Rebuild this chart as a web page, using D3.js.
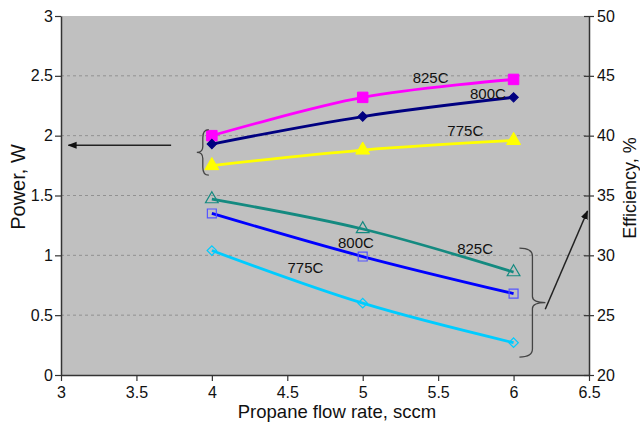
<!DOCTYPE html>
<html>
<head>
<meta charset="utf-8">
<script src="https://cdn.jsdelivr.net/npm/d3@7"></script>
<style>
  body { margin: 0; background: #fff; }
  text { font-family: "Liberation Sans", Arial, sans-serif; }
</style>
</head>
<body>
<div id="chart-area"></div>
<script>
// data
var flow = [4, 5, 6];
var power825 = [2.00, 2.32, 2.47];
var power800 = [1.93, 2.16, 2.32];
var power775 = [1.75, 1.88, 1.96];
var eff825 = [34.7, 32.2, 28.6];
var eff800 = [33.5, 29.9, 26.8];
var eff775 = [30.4, 26.0, 22.7];
var xTicks = [3, 3.5, 4, 4.5, 5, 5.5, 6, 6.5];
var powerTicks = [0, 0.5, 1, 1.5, 2, 2.5, 3];
var effTicks = [20, 25, 30, 35, 40, 45, 50];

var W = 640, H = 431;
var margin = {left: 61, right: 51, top: 16, bottom: 56};
var width = W - margin.left - margin.right;
var height = H - margin.top - margin.bottom;

var svg = d3.select("#chart-area").append("svg").attr("width", W).attr("height", H);
var g = svg.append("g").attr("transform", "translate(" + margin.left + "," + margin.top + ")");

var x = d3.scaleLinear().domain([3, 6.5]).range([0, width]);
var y = d3.scaleLinear().domain([0, 3]).range([height, 0]);
var y2 = d3.scaleLinear().domain([20, 50]).range([height, 0]);

g.append("rect").attr("width", width).attr("height", height).attr("fill", "#c0c0c0");

// gridlines
g.selectAll(".grid").data(powerTicks.slice(1, -1)).enter().append("line")
	.attr("x1", 0).attr("x2", width)
	.attr("y1", d => y(d)).attr("y2", d => y(d))
	.attr("stroke", "#919191").attr("stroke-dasharray", "3,3").attr("stroke-width", 1);

// axes
var bottomAxis = d3.axisBottom(x).tickValues(xTicks).tickSize(6).tickSizeOuter(0).tickFormat(d3.format("~g"));
var leftAxis = d3.axisLeft(y).tickValues(powerTicks).tickSize(6).tickSizeOuter(0).tickFormat(d3.format("~g"));
var rightAxis = d3.axisRight(y2).tickValues(effTicks).tickSize(5).tickSizeOuter(0);

function styleAxis(sel) {
	sel.select(".domain").attr("stroke", "#333").attr("stroke-width", 1.5);
	sel.selectAll(".tick line").attr("stroke", "#333").attr("stroke-width", 1.2);
	sel.selectAll("text").attr("font-size", "16px").attr("fill", "#111")
		.attr("font-family", "Liberation Sans, Arial, sans-serif");
}

g.append("g").attr("transform", "translate(0," + height + ")").call(bottomAxis).call(styleAxis)
	.selectAll("text").attr("dy", "0.9em");
g.append("g").call(leftAxis).call(styleAxis)
	.selectAll("text").attr("x", -8);
var ra = g.append("g").attr("transform", "translate(" + width + ",0)").call(rightAxis).call(styleAxis);
ra.selectAll(".tick line").attr("x1", -5);
ra.selectAll("text").attr("x", 8);

// series
var series = [
	{vals: power825, sc: y, color: "#ff00ff", shape: d3.symbolSquare, rot: 0, fill: true, size: 110},
	{vals: power800, sc: y, color: "#000080", shape: d3.symbolSquare, rot: 45, fill: true, size: 45},
	{vals: power775, sc: y, color: "#ffff00", shape: d3.symbolTriangle, rot: 0, fill: true, size: 85},
	{vals: eff825, sc: y2, color: "#148a80", shape: d3.symbolTriangle, rot: 0, fill: false, size: 70},
	{vals: eff800, sc: y2, color: "#0000ff", shape: d3.symbolSquare, rot: 0, fill: false, size: 80, mk: "#5555ff"},
	{vals: eff775, sc: y2, color: "#00ccff", shape: d3.symbolSquare, rot: 45, fill: false, size: 45}
];

series.forEach(function(s) {
	var pts = flow.map((f, i) => [x(f), s.sc(s.vals[i])]);
	g.append("path")
		.attr("d", d3.line().curve(d3.curveCatmullRom.alpha(0.5))(pts))
		.attr("fill", "none").attr("stroke", s.color).attr("stroke-width", 2.8);
	g.selectAll(null).data(pts).enter().append("path")
		.attr("transform", d => "translate(" + d[0] + "," + d[1] + ") rotate(" + s.rot + ")")
		.attr("d", d3.symbol().type(s.shape).size(s.size))
		.attr("fill", s.fill ? s.color : "none")
		.attr("stroke", s.mk || s.color).attr("stroke-width", s.fill ? 1 : 1.2);
});

// labels
var labels = [
	{t: "825C", fx: 5.45, v: 2.44, sc: y},
	{t: "800C", fx: 5.83, v: 2.31, sc: y},
	{t: "775C", fx: 5.68, v: 2.0, sc: y},
	{t: "800C", fx: 4.955, v: 30.6, sc: y2},
	{t: "825C", fx: 5.745, v: 30.1, sc: y2},
	{t: "775C", fx: 4.62, v: 28.5, sc: y2}
];
g.selectAll(".lbl").data(labels).enter().append("text")
	.attr("x", d => x(d.fx)).attr("y", d => d.sc(d.v))
	.attr("text-anchor", "middle").attr("font-size", "15px").attr("fill", "#111")
	.text(d => d.t);

// braces and arrows
function brace(xc, y0, y1, w) {
	var ym = (y0 + y1) / 2;
	return "M" + (xc + w) + "," + y0 +
		" Q" + xc + "," + y0 + " " + xc + "," + (y0 + 8) +
		" L" + xc + "," + (ym - 6) +
		" Q" + xc + "," + ym + " " + (xc - w) + "," + ym +
		" Q" + xc + "," + ym + " " + xc + "," + (ym + 6) +
		" L" + xc + "," + (y1 - 8) +
		" Q" + xc + "," + y1 + " " + (xc + w) + "," + y1;
}
g.append("path").attr("d", brace(x(3.94), y(2.05), y(1.67), 6))
	.attr("fill", "none").attr("stroke", "#444").attr("stroke-width", 1.3);
g.append("path").attr("d", brace(x(6.125), y2(30.6), y2(21.5), -13))
	.attr("fill", "none").attr("stroke", "#444").attr("stroke-width", 1.3);

svg.append("defs").append("marker").attr("id", "ah")
	.attr("viewBox", "0 0 10 10").attr("refX", 9).attr("refY", 5)
	.attr("markerWidth", 6).attr("markerHeight", 6).attr("orient", "auto")
	.append("path").attr("d", "M0,1 L10,5 L0,9 Z").attr("fill", "#111");

g.append("line")
	.attr("x1", x(3.73)).attr("y1", y(1.92)).attr("x2", x(3.05)).attr("y2", y(1.92))
	.attr("stroke", "#222").attr("stroke-width", 1.5).attr("marker-end", "url(#ah)");
g.append("line")
	.attr("x1", x(6.21)).attr("y1", y2(25.5)).attr("x2", x(6.49)).attr("y2", y2(33.7))
	.attr("stroke", "#222").attr("stroke-width", 1.5).attr("marker-end", "url(#ah)");

// titles
svg.append("text")
	.attr("x", margin.left + width / 2 + 12).attr("y", 418)
	.attr("text-anchor", "middle").attr("font-size", "18.5px").attr("fill", "#111")
	.text("Propane flow rate, sccm");
svg.append("text")
	.attr("transform", "translate(25,187) rotate(-90)")
	.attr("text-anchor", "middle").attr("font-size", "20px").attr("fill", "#111")
	.text("Power, W");
svg.append("text")
	.attr("transform", "translate(636,188) rotate(-90)")
	.attr("text-anchor", "middle").attr("font-size", "18px").attr("fill", "#111")
	.text("Efficiency, %");
</script>
</body>
</html>
